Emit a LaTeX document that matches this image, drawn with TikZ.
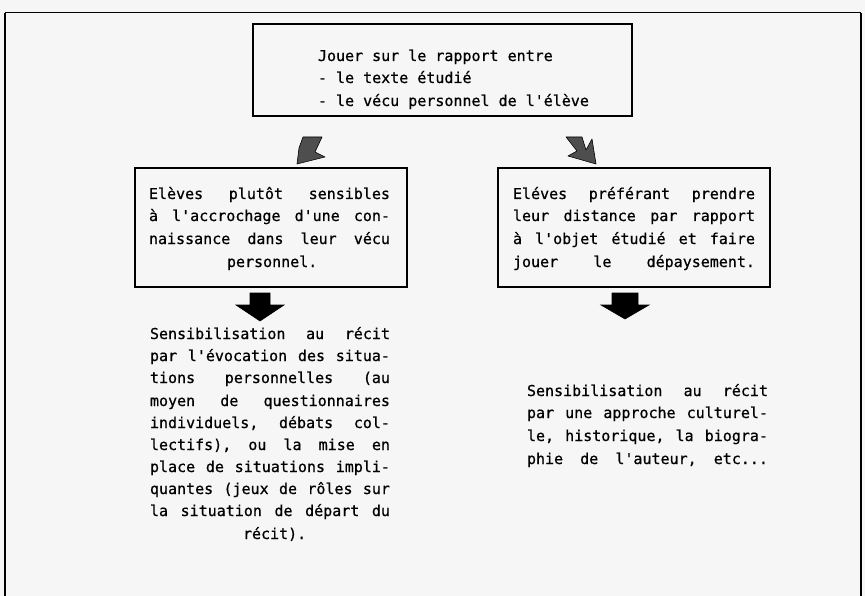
\documentclass[tikz,border=0pt]{standalone}
\usepackage{fontspec}
\setmonofont[FakeBold=0.7]{DejaVu Sans Mono}
\definecolor{paper}{RGB}{246,246,246}
\definecolor{inkgrey}{RGB}{78,78,78}
\begin{document}
\begin{tikzpicture}[x=1pt,y=-1pt,
  txt/.style={anchor=west, inner sep=0pt, outer sep=0pt,
    font=\ttfamily\fontsize{15}{22}\selectfont, text height=11pt, text depth=3pt},
  boxst/.style={draw=black, line width=1.3pt, inner sep=0pt, outer sep=0pt},
  sidest/.style={draw=black, line width=1.8pt},
  topst/.style={draw=black, line width=1pt},
  greyarrow/.style={fill=inkgrey, draw=black, line width=0.6pt, line join=round},
  blackarrow/.style={fill=black, draw=black, line width=0.6pt, line join=miter}
]
% page
\fill[paper] (0,0) rectangle (865,596);
\useasboundingbox (0,0) rectangle (865,596);

% outer frame (open at the bottom)
\coordinate (fbl) at (5,596);
\coordinate (ftl) at (5,13);
\coordinate (ftr) at (861,13);
\coordinate (fbr) at (861,596);
\draw[sidest] (fbl) -- (ftl);
\draw[topst] (ftl) -- (ftr);
\draw[sidest] (ftr) -- (fbr);

% boxes
\node[boxst, line width=1.6pt, minimum width=379pt, minimum height=92pt] (top) at (442.5,70) {};
\draw[line width=2.4pt] (top.north west) -- (top.north east);
\node[boxst, minimum width=272pt, minimum height=119pt] (lbox) at (271,227.5) {};
\node[boxst, minimum width=272pt, minimum height=119pt] (rbox) at (634,227.5) {};

% top box text
\node[txt] (t1) at (318,57) {Jouer sur le rapport entre};
\node[txt] (t2) at (318,79) {- le texte étudié};
\node[txt] (t3) at (318,102) {- le vécu personnel de l'élève};

% left box text
\node[txt] (l1) at (149,195) {\hbox to 241pt{Elèves\hfill plutôt\hfill sensibles}};
\node[txt] (l2) at (149,217) {\hbox to 241pt{à\hfill l'accrochage\hfill d'une\hfill con-}};
\node[txt] (l3) at (149,240) {\hbox to 241pt{naissance\hfill dans\hfill leur\hfill vécu}};
\node[txt] (l4) at (227,263) {personnel.};

% right box text
\node[txt] (r1) at (513,195) {\hbox to 242pt{Eléves\hfill préférant\hfill prendre}};
\node[txt] (r2) at (513,217) {\hbox to 242pt{leur\hfill distance\hfill par\hfill rapport}};
\node[txt] (r3) at (513,240) {\hbox to 242pt{à\hfill l'objet\hfill étudié\hfill et\hfill faire}};
\node[txt] (r4) at (513,263) {\hbox to 242pt{jouer\hfill le\hfill dépaysement.}};

% bottom left text
\node[txt] (bl1) at (150,335) {\hbox to 240pt{Sensibilisation\hfill au\hfill récit}};
\node[txt] (bl2) at (150,357) {\hbox to 240pt{par\hfill l'évocation\hfill des\hfill situa-}};
\node[txt] (bl3) at (150,379) {\hbox to 240pt{tions\hfill personnelles\hfill (au}};
\node[txt] (bl4) at (150,402) {\hbox to 240pt{moyen\hfill de\hfill questionnaires}};
\node[txt] (bl5) at (150,424) {\hbox to 240pt{individuels,\hfill débats\hfill col-}};
\node[txt] (bl6) at (150,446) {\hbox to 240pt{lectifs),\hfill ou\hfill la\hfill mise\hfill en}};
\node[txt] (bl7) at (150,468) {\hbox to 240pt{place\hfill de\hfill situations\hfill impli-}};
\node[txt] (bl8) at (150,490) {\hbox to 240pt{quantes\hfill (jeux\hfill de\hfill rôles\hfill sur}};
\node[txt] (bl9) at (150,512) {\hbox to 240pt{la\hfill situation\hfill de\hfill départ\hfill du}};
\node[txt] (bl10) at (243,535) {récit).};

% bottom right text
\node[txt] (br1) at (527,392) {\hbox to 241pt{Sensibilisation\hfill au\hfill récit}};
\node[txt] (br2) at (527,414) {\hbox to 241pt{par\hfill une\hfill approche\hfill culturel-}};
\node[txt] (br3) at (527,437) {\hbox to 241pt{le,\hfill historique,\hfill la\hfill biogra-}};
\node[txt] (br4) at (527,460) {\hbox to 241pt{phie\hfill de\hfill l'auteur,\hfill etc...}};

% grey slanted arrows from the top box
\draw[greyarrow] (303,137) -- (322,137) -- (315,152) -- (325,157) -- (297,164) -- (299,148) -- cycle;
\draw[greyarrow] (566,137) -- (582,137) -- (586,150) -- (592,139) -- (596,164) -- (568,156) -- (577,151) -- cycle;

% black down arrows
\draw[blackarrow] (250,293) -- (270,293) -- (270,305) -- (284,305) -- (260,321) -- (236,305) -- (250,305) -- cycle;
\draw[blackarrow] (612,293) -- (638,293) -- (638,305) -- (649,305) -- (625,319) -- (601,305) -- (612,305) -- cycle;
\end{tikzpicture}
\end{document}
